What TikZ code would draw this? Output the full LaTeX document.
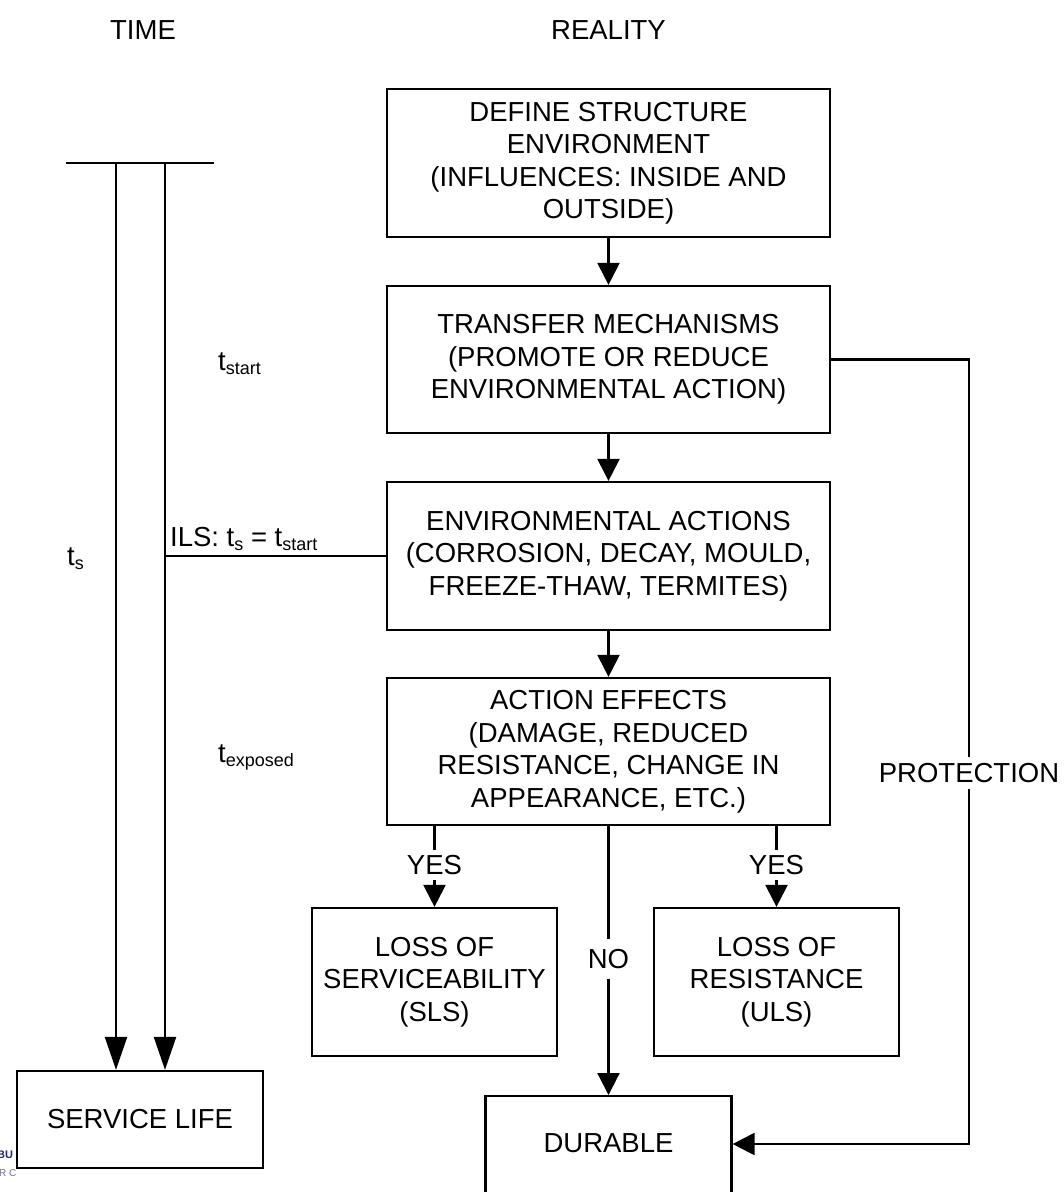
\documentclass[tikz,border=0pt]{standalone}
\usepackage{fontspec}
\setmainfont{Liberation Sans}
\usetikzlibrary{arrows.meta}
\newcommand\mysub[1]{\raisebox{-4pt}{\fontsize{18}{18}\selectfont #1}}
\begin{document}
\begin{tikzpicture}[x=1pt,y=-1pt,
  txt/.style={font=\fontsize{27.5}{32.5}\selectfont, inner sep=0pt},
  box/.style={txt, draw, line width=2.2pt, fill=white, align=center},
  ln/.style={line width=2.2pt},
  arr/.style={ln, -{Triangle[length=22pt,width=22pt]}},
  larr/.style={ln, -{Triangle[length=33pt,width=22pt]}},
]
\useasboundingbox (0,0) rectangle (1064,1192);
\fill[white] (0,0) rectangle (1064,1192);
\clip (0,0) rectangle (1064,1192);

% headings
\node[txt] (time) at (143,30) {TIME};
\node[txt] (reality) at (608.5,30) {REALITY};

% logo fragments
\node[anchor=base west, inner sep=0pt, font=\fontsize{11}{11}\selectfont\bfseries, text={rgb,255:red,40;green,40;blue,100}] (logoa) at (-3,1158) {BU};
\node[anchor=base west, inner sep=0pt, font=\fontsize{10}{10}\selectfont, text={rgb,255:red,110;green,110;blue,150}] (logob) at (-1,1176) {R C};
\fill[white] (17,1071) rectangle (280,1192);

% reality boxes
\node[box, minimum width=443pt, minimum height=148pt] (b1) at (608.5,163)
  {DEFINE STRUCTURE\\ENVIRONMENT\\(INFLUENCES: INSIDE AND\\OUTSIDE)};
\node[box, minimum width=443pt, minimum height=147pt] (b2) at (608.5,359.5)
  {TRANSFER MECHANISMS\\(PROMOTE OR REDUCE\\ENVIRONMENTAL ACTION)};
\node[box, minimum width=443pt, minimum height=148pt] (b3) at (608.5,556)
  {ENVIRONMENTAL ACTIONS\\(CORROSION, DECAY, MOULD,\\FREEZE-THAW, TERMITES)};
\node[box, minimum width=443pt, minimum height=147pt] (b4) at (608.5,751.5)
  {ACTION EFFECTS\\(DAMAGE, REDUCED\\RESISTANCE, CHANGE IN\\APPEARANCE, ETC.)};
\node[box, minimum width=245pt, minimum height=148pt] (sls) at (434.5,982)
  {LOSS OF\\SERVICEABILITY\\(SLS)};
\node[box, minimum width=245pt, minimum height=148pt] (uls) at (776.5,982)
  {LOSS OF\\RESISTANCE\\(ULS)};
\node[box, minimum width=246pt, minimum height=106pt, anchor=north] (dur) at (608.5,1095) {};
\node[txt] (durt) at (608.5,1143) {DURABLE};

% reality connectors
\draw[arr] (b1.south) -- (b2.north);
\draw[arr] (b2.south) -- (b3.north);
\draw[arr] (b3.south) -- (b4.north);

\node[txt, inner ysep=5pt] (yes1) at (434.5,865) {YES};
\node[txt, inner ysep=5pt] (yes2) at (776.5,865) {YES};
\draw[ln] (b4.south -| yes1) -- (yes1.north);
\draw[arr] (yes1.south) -- (sls.north);
\draw[ln] (b4.south -| yes2) -- (yes2.north);
\draw[arr] (yes2.south) -- (uls.north);

\node[txt, inner ysep=10pt] (no) at (608.5,959) {NO};
\draw[ln] (b4.south) -- (no.north);
\draw[arr] (no.south) -- (dur.north);

\node[txt, inner ysep=6pt] (prot) at (969,773) {PROTECTION};
\coordinate (pc) at (969,1144);
\draw[ln] (b2.east) -- (b2.east -| prot) -- (prot.north);
\draw[arr] (prot.south) -- (pc) -- (pc -| dur.east);

% time side
\node[box, minimum width=246pt, minimum height=97pt] (sl) at (140,1119.5) {SERVICE LIFE};
\coordinate (bl) at (66,163);
\coordinate (br) at (214,163);
\coordinate (v1) at (116,163);
\coordinate (v2) at (165,163);
\draw[ln] (bl) -- (br);
\draw[larr] (v1) -- (v1 |- sl.north);
\draw[larr] (v2) -- (v2 |- sl.north);
\draw[ln] (v2 |- b3.west) -- (b3.west);

\node[txt, anchor=base west] (ils) at (170,546) {ILS: t\mysub{s} = t\mysub{start}};
\node[txt, anchor=base west] (tstart) at (218,370) {t\mysub{start}};
\node[txt, anchor=base west] (ts) at (67,565) {t\mysub{s}};
\node[txt, anchor=base west] (texp) at (218,762) {t\mysub{exposed}};
\end{tikzpicture}
\end{document}
